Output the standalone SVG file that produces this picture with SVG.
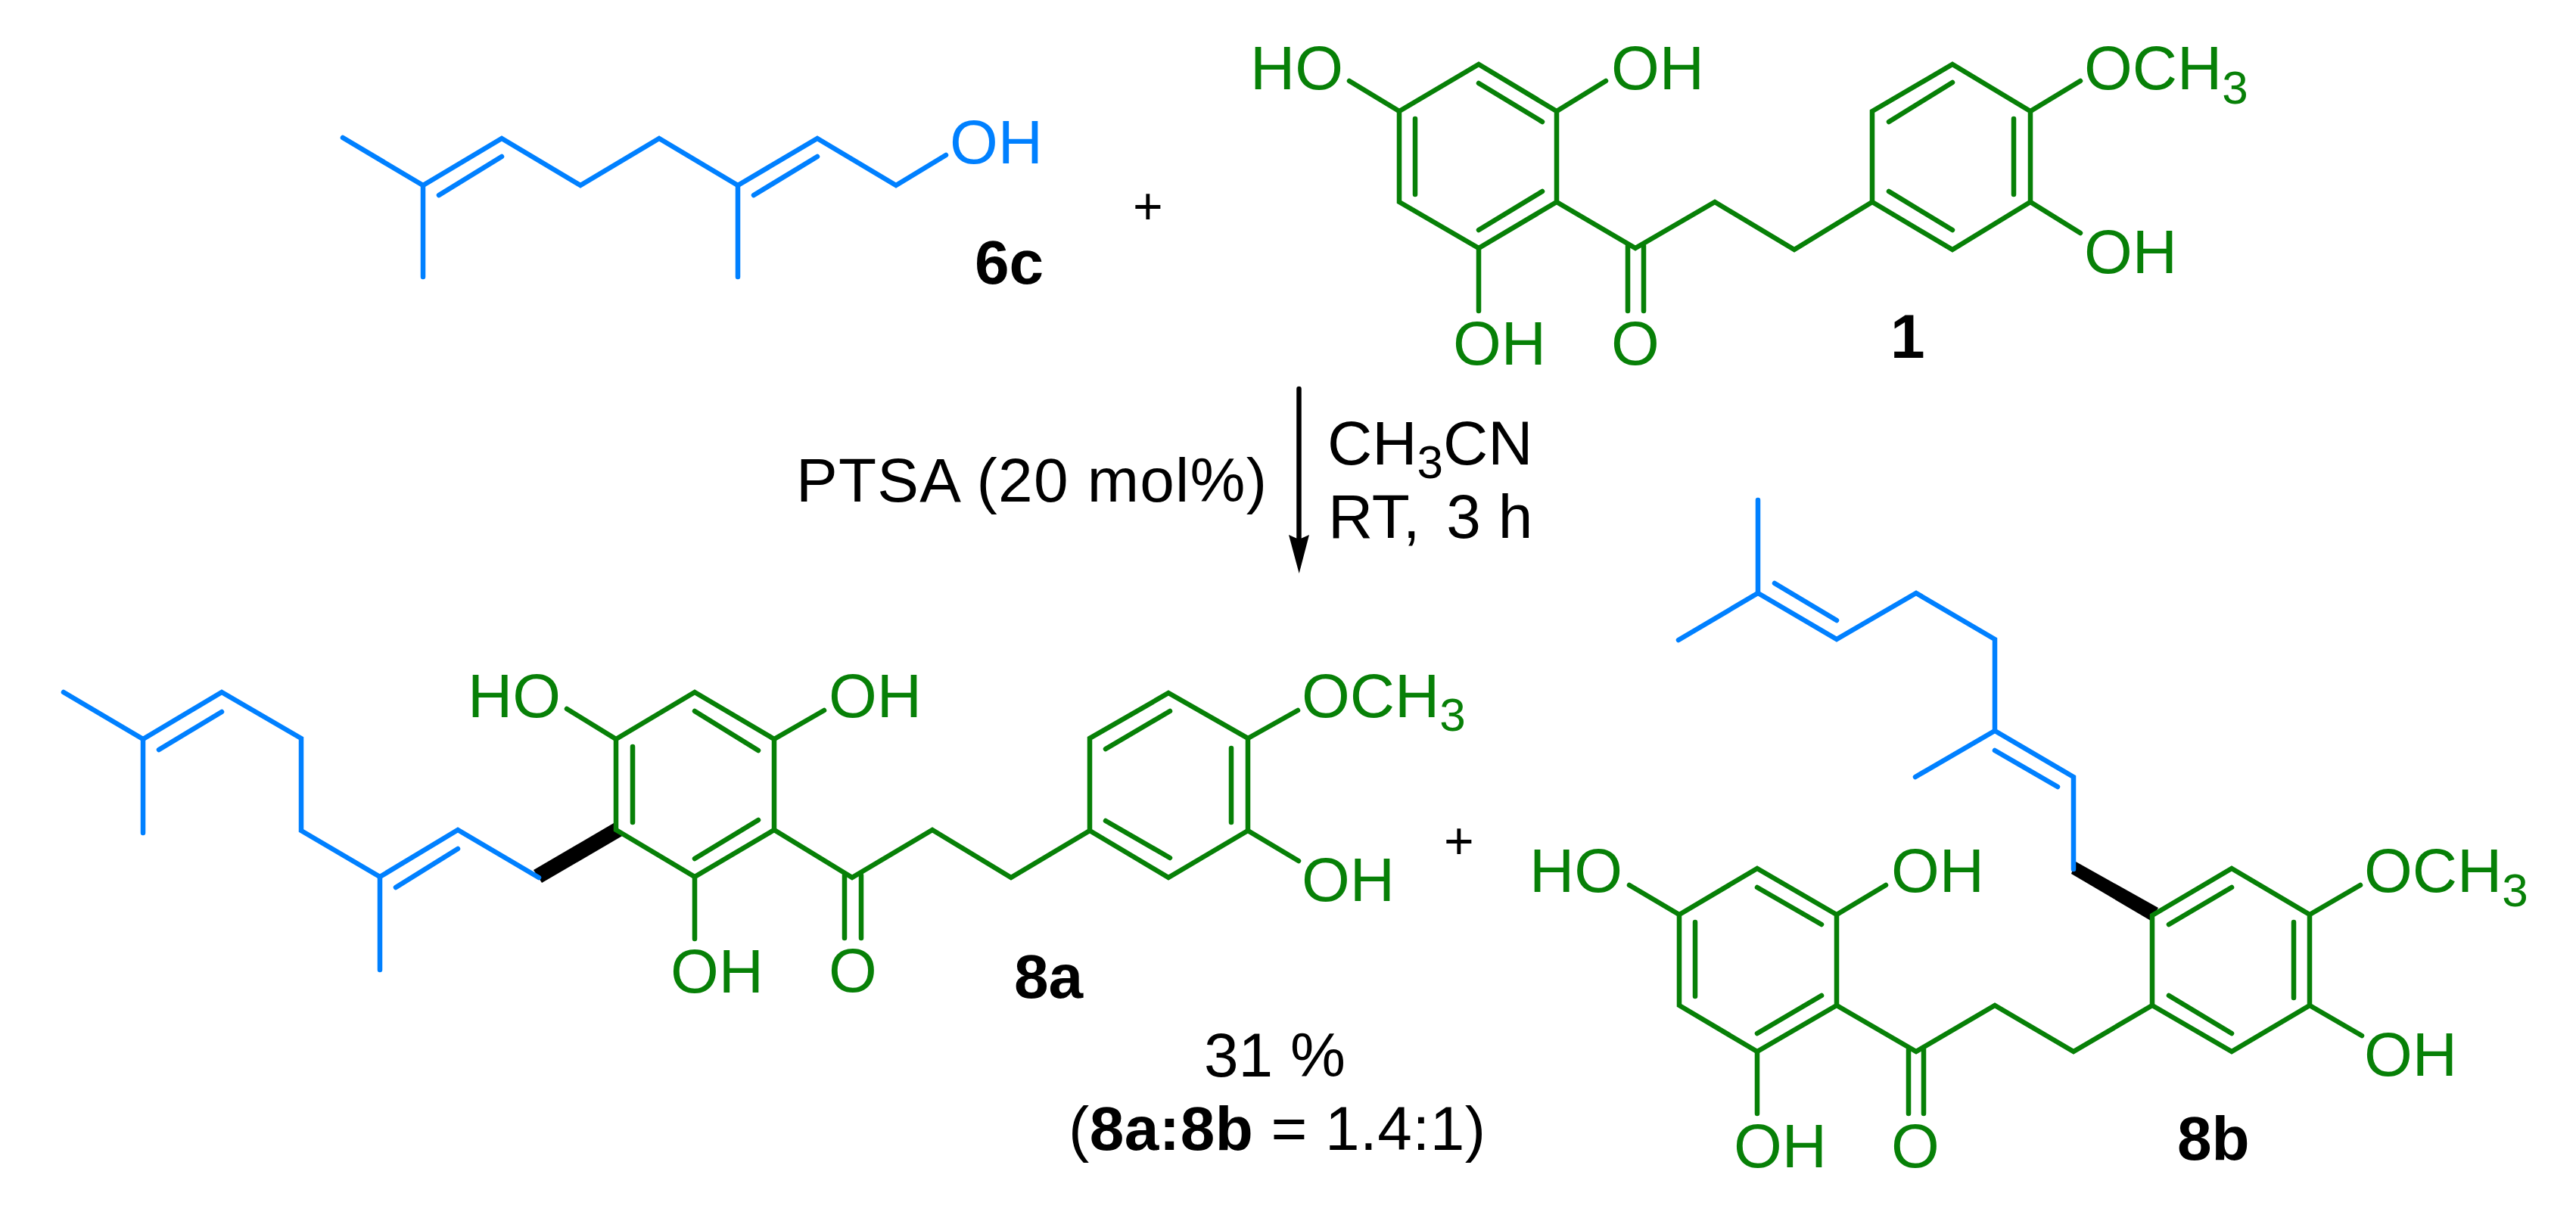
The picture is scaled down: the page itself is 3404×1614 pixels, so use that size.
<svg xmlns="http://www.w3.org/2000/svg" width="3404" height="1614" viewBox="0 0 3404 1614">
<style>
text{font-family:"Liberation Sans",Arial,sans-serif;font-size:82px;fill:#000}
.gr text{fill:#078007}
.bu text{fill:#0080ff}
.sub{font-size:62px}
.bd{font-weight:700}
path{fill:none;stroke-width:6.5;stroke-linejoin:miter;stroke-linecap:round}
.gr path{stroke:#078007}
.bu path{stroke:#0080ff}
.k{fill:#000;stroke:none}
</style>
<rect width="3404" height="1614" fill="#fff"/>
<g id="connectors">
<path d="M1716.5 514V712" stroke="#000" stroke-linecap="butt"/>
<polygon class="k" points="1703,707 1716.5,713 1730,707 1716.7,758"/>
</g>
<g id="reagents">
<text x="1052" y="663" textLength="622" lengthAdjust="spacing">PTSA (20 mol%)</text>
<text x="1754" y="614">CH<tspan class="sub" dy="18">3</tspan><tspan dy="-18">CN</tspan></text>
<text x="1755" y="711">RT,<tspan dx="12"> 3 h</tspan></text>
</g>
<g id="plus-1"><text x="1497" y="296" style="font-size:68px">+</text></g>
<g id="plus-2"><text x="1908" y="1135" style="font-size:68px">+</text></g>
<g id="yield">
<text x="1591" y="1423">31 %</text>
<text x="1412" y="1520" textLength="551" lengthAdjust="spacing">(<tspan class="bd">8a</tspan><tspan class="bd">:</tspan><tspan class="bd">8b</tspan> = 1.4:1)</text>
</g>
<g id="node-6c" class="bu">
<path d="M453 182L559 245L663 183L767 245L871 183L975 245L1080 183L1184 245L1250 205"/>
<path d="M559 245V366M975 245V366M580 258L663 207M996 258L1080 207"/>
<text x="1255" y="216">OH</text>
<text class="bd" x="1288" y="375" style="fill:#000">6c</text>
</g>
<g id="node-1" class="gr">
<path d="M1954 85L2057 147V267L1954 328L1849 267V147Z"/>
<path d="M1954 110L2038 161M1870 157V257M1954 304L2038 253"/>
<path d="M1783 107L1849 147M2057 147L2122 107M1954 328V411"/>
<path d="M2057 267L2161 328L2266 267L2371 330L2474 267"/>
<path d="M2151 325V411M2172 325V411"/>
<path d="M2474 267V147L2580 85L2683 147V267L2580 330Z"/>
<path d="M2496 161L2580 109M2661 157V257M2496 253L2580 304"/>
<path d="M2683 147L2749 107M2683 267L2749 308"/>
<text x="1652" y="118">HO</text>
<text x="2129" y="118">OH</text>
<text x="2754" y="118">OCH<tspan class="sub" dy="19">3</tspan></text>
<text x="2754" y="361">OH</text>
<text x="1920" y="482">OH</text>
<text x="2129" y="482">O</text>
<text class="bd" x="2498" y="473" style="fill:#000">1</text>
</g>
<g id="node-8a">
<polygon class="k" points="705,1150 716,1167 824,1104 811,1088"/>
<g class="bu">
<path d="M84 915L189 977L293 915L398 976V1098L502 1159L605 1097L712 1160"/>
<path d="M189 977V1101M502 1159V1282M210 991L293 941M523 1173L605 1122"/>
</g>
<g class="gr">
<path d="M918 915L1023 977V1097L918 1159L814 1097V977Z"/>
<path d="M918 940L1002 992M836 987V1087M918 1135L1002 1084"/>
<path d="M749 937L814 977M1023 977L1089 939M918 1159V1241"/>
<path d="M1023 1097L1126 1160L1232 1097L1336 1160L1440 1098"/>
<path d="M1116 1157V1240M1138 1157V1240"/>
<path d="M1440 1098V976L1544 916L1649 976V1098L1544 1160Z"/>
<path d="M1461 990L1546 940M1627 989V1087M1461 1085L1546 1134"/>
<path d="M1649 976L1715 939M1649 1098L1716 1138"/>
<text x="618" y="948">HO</text>
<text x="1095" y="948">OH</text>
<text x="1720" y="948">OCH<tspan class="sub" dy="18">3</tspan></text>
<text x="1720" y="1191">OH</text>
<text x="886" y="1312">OH</text>
<text x="1095" y="1311">O</text>
<text class="bd" x="1340" y="1319" style="fill:#000">8a</text>
</g>
</g>
<g id="node-8b">
<polygon class="k" points="2743,1139 2737,1155 2842,1217 2852,1200"/>
<g class="bu">
<path d="M2323 661V784L2427 845L2532 784L2636 845V966L2740 1027V1149"/>
<path d="M2218 846L2323 784M2531 1027L2636 966M2345 771L2427 820M2636 992L2719 1040"/>
</g>
<g class="gr">
<path d="M2322 1148L2427 1209V1329L2322 1390L2219 1329V1209Z"/>
<path d="M2322 1173L2407 1222M2240 1219V1317M2322 1366L2407 1316"/>
<path d="M2153 1170L2219 1209M2427 1209L2492 1170M2322 1390V1472"/>
<path d="M2427 1329L2532 1390L2636 1329L2740 1390L2844 1329"/>
<path d="M2522 1387V1472M2542 1387V1472"/>
<path d="M2844 1329V1210L2949 1148L3052 1209V1329L2949 1390Z"/>
<path d="M2866 1222L2949 1173M3031 1219V1319M2866 1316L2949 1366"/>
<path d="M3052 1209L3119 1170M3052 1329L3121 1369"/>
<text x="2021" y="1179">HO</text>
<text x="2499" y="1179">OH</text>
<text x="3124" y="1179">OCH<tspan class="sub" dy="19">3</tspan></text>
<text x="3124" y="1422">OH</text>
<text x="2291" y="1543">OH</text>
<text x="2499" y="1543">O</text>
<text class="bd" x="2877" y="1533" style="fill:#000">8b</text>
</g>
</g>
</svg>
